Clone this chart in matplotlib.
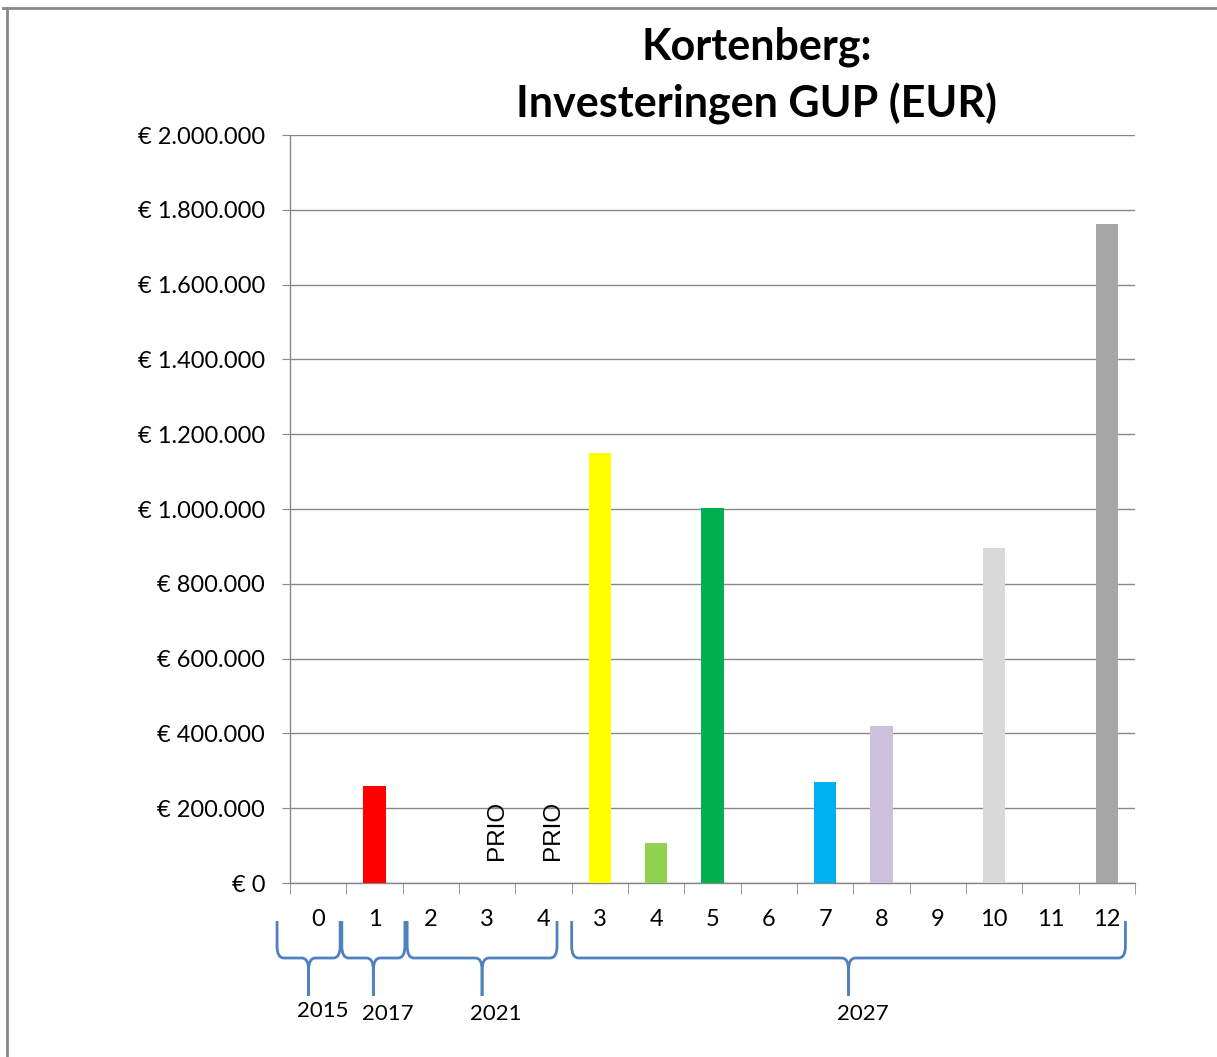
import matplotlib.pyplot as plt
import numpy as np
from matplotlib.path import Path
from matplotlib.patches import PathPatch
from matplotlib.lines import Line2D
from matplotlib.transforms import blended_transform_factory
from matplotlib.ticker import FuncFormatter

labels = ['0', '1', '2', '3', '4', '3', '4', '5', '6', '7', '8', '9', '10', '11', '12']
values = [0, 260000, 0, 0, 0, 1150000, 107000, 1003000, 0, 270000, 420000, 0, 896000, 0, 1762000]
colors = ['#FF0000', '#FF0000', '#FF0000', '#FF0000', '#FF0000', '#FFFF00', '#92D050', '#00B050',
          '#00B050', '#00B0F0', '#CCC0DA', '#D9D9D9', '#D9D9D9', '#A6A6A6', '#A6A6A6']
prio_idx = [3, 4]
# year groups: (first category, last category, label)
groups = [(0, 0, '2015'), (1, 1, '2017'), (2, 4, '2021'), (5, 14, '2027')]

W, H = 1217, 1057
fig = plt.figure(figsize=(W / 100, H / 100), dpi=100)
ax = fig.add_axes([290 / W, (H - 883) / H, 845 / W, 748 / H])

x = np.arange(len(values))
ax.bar(x, values, width=0.4, color=colors, zorder=3)
ax.set_xlim(-0.5, len(values) - 0.5)
ax.set_ylim(0, 2000000)

def eur(v, pos):
    return '€ ' + f'{int(v):,}'.replace(',', '.')

ax.set_yticks(np.arange(0, 2000001, 200000))
ax.yaxis.set_major_formatter(FuncFormatter(eur))
ax.set_xticks(x)
ax.set_xticklabels(labels)
ax.set_xticks(np.arange(-0.5, len(values), 1), minor=True)
ax.tick_params(axis='x', which='major', length=0, pad=19, labelsize=17)
ax.tick_params(axis='x', which='minor', length=8, color='#888888', direction='out')
ax.tick_params(axis='y', length=6, color='#888888', labelsize=17, pad=12)
for t in ax.get_xticklabels() + ax.get_yticklabels():
    t.set_fontfamily('Lato')

ax.grid(axis='y', color='#888888', linewidth=1, zorder=0)
for s in ['top', 'right']:
    ax.spines[s].set_visible(False)
for s in ['left', 'bottom']:
    ax.spines[s].set_color('#888888')
    ax.spines[s].set_linewidth(1)

for i in prio_idx:
    ax.text(i + 0.17, 62000, 'PRIO', rotation=90, ha='center', va='bottom',
            fontsize=17.5, family='Liberation Sans', zorder=4)

fig.text(757 / W, 1 - 47 / H, 'Kortenberg:', ha='center', va='center',
         fontsize=31, fontweight='bold', family='Lato')
fig.text(757 / W, 1 - 104 / H, 'Investeringen GUP (EUR)', ha='center', va='center',
         fontsize=31, fontweight='bold', family='Lato')

# curly braces under the axis
tr = blended_transform_factory(ax.transData, fig.transFigure)
ytop = 1 - 921 / H
ymid = 1 - 958 / H
ytip = 1 - 996 / H
ry = 12 / H
rx = 0.12

def brace(x0, x1):
    xm = (x0 + x1) / 2
    for a, b in [(x0, 1), (x1, -1)]:
        verts = [(a, ytop), (a, ymid + ry), (a, ymid), (a + b * rx, ymid),
                 (xm - b * rx, ymid), (xm, ymid), (xm, ymid - ry), (xm, ytip)]
        codes = [Path.MOVETO, Path.LINETO, Path.CURVE3, Path.CURVE3,
                 Path.LINETO, Path.CURVE3, Path.CURVE3, Path.LINETO]
        fig.add_artist(PathPatch(Path(verts, codes), transform=tr, fill=False,
                                 edgecolor='#4F81BD', linewidth=2))

# brace end offsets (left, right) relative to group's first/last category
offsets = [(-0.73, 0.39), (-0.58, 0.54), (-0.42, 0.24), (-0.5, 0.33)]
for (g0, g1, name), (o0, o1) in zip(groups, offsets):
    x0, x1 = g0 + o0, g1 + o1
    brace(x0, x1)
    xm = (x0 + x1) / 2
    yl = 1011 if name == '2015' else 1014
    fig.text(xm + 0.25, 1 - yl / H, name, transform=tr, ha='center', va='center',
             fontsize=16, family='Lato')

# outer border (top and left)
fig.add_artist(Line2D([3 / W, 1], [1 - 8 / H, 1 - 8 / H], transform=fig.transFigure,
                      color='#888888', linewidth=2))
fig.add_artist(Line2D([7 / W, 7 / W], [0, 1 - 8 / H], transform=fig.transFigure,
                      color='#888888', linewidth=2))

fig.savefig('out.png', dpi=100)
